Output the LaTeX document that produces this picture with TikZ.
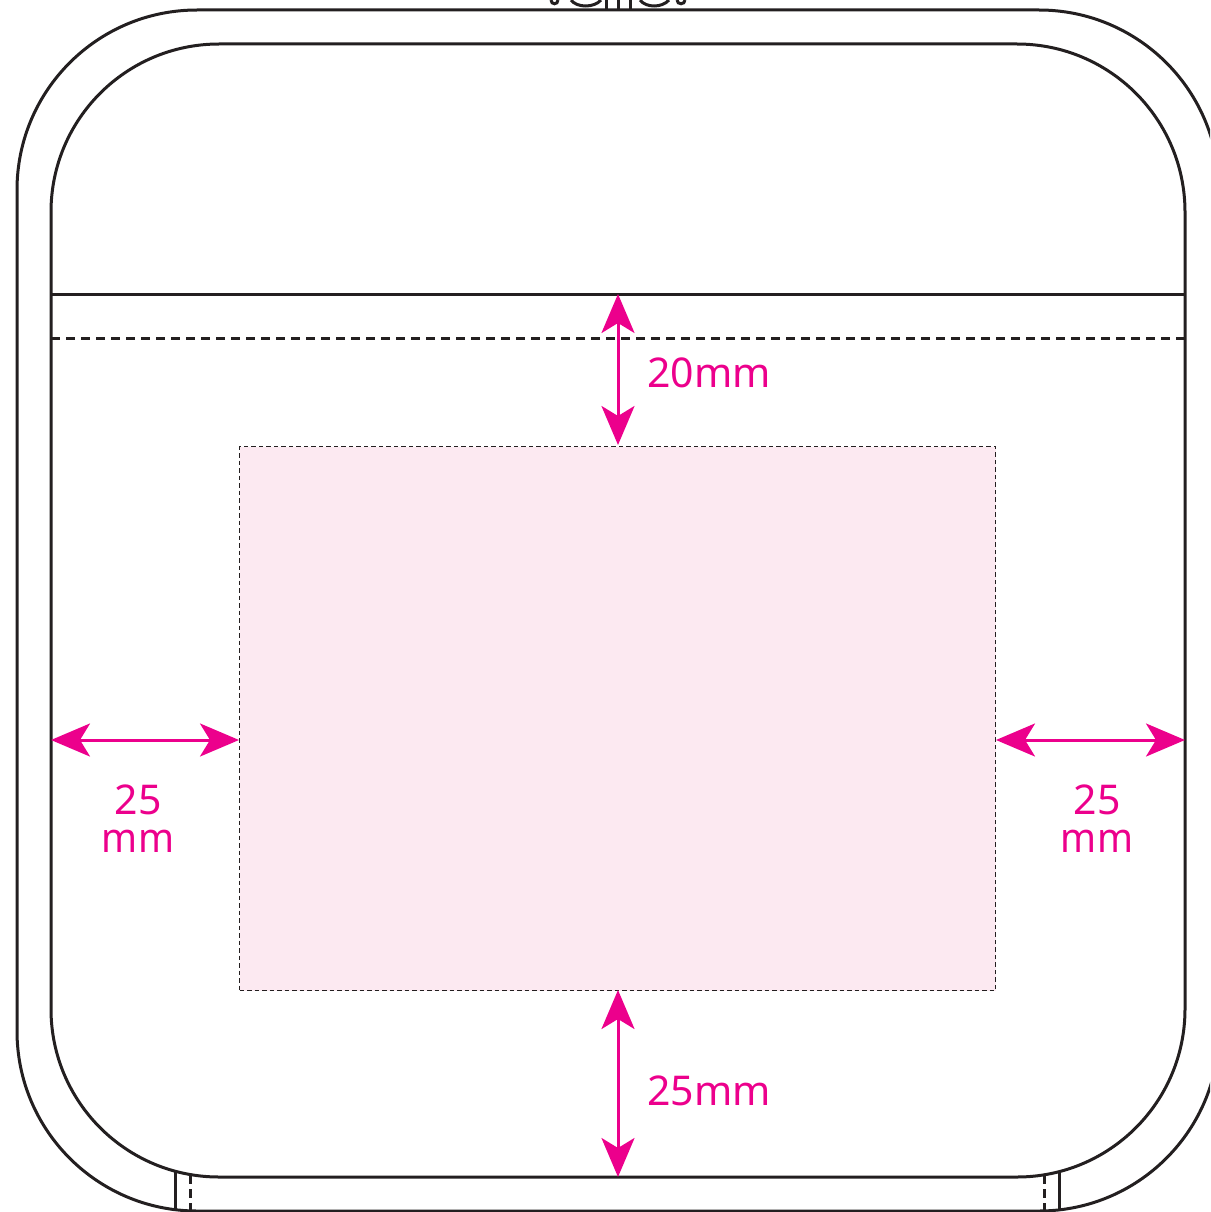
\documentclass[tikz,border=0pt]{standalone}
\usepackage{fontspec}
\setmainfont{Noto Sans}
\newfontfamily\stackfont[FakeStretch=0.94]{Noto Sans}
\usetikzlibrary{arrows.meta}
\definecolor{magentaink}{HTML}{EC008C}
\definecolor{pinkfill}{HTML}{FCE9F1}
\definecolor{inkline}{HTML}{231F20}
\tikzset{
  outline/.style={draw=inkline,line width=3pt},
  stitch/.style={draw=inkline,line width=3pt,dash pattern=on 9pt off 6pt},
  dimline/.style={draw=magentaink,line width=3pt,{Stealth[length=39pt,width=33pt,inset=10pt]}-{Stealth[length=39pt,width=33pt,inset=10pt]}},
  dimtext/.style={text=magentaink,font=\fontsize{41}{38}\selectfont,inner sep=0pt,align=center}
}
\begin{document}
\begin{tikzpicture}[x=1pt,y=-1pt]
\useasboundingbox (0,0) rectangle (1210,1212);
\clip (0,0) rectangle (1210,1212);
% logo fragment
\draw[inkline,line width=3pt] (551,0) .. controls (551,5) and (558,5) .. (558,0);
\draw[inkline,line width=3pt] (571,0) .. controls (577,8) and (594,8) .. (601,0);
\draw[inkline,line width=3pt] (606,0) -- (606,9) (618,0) -- (618,9) (630,0) -- (630,9);
\draw[inkline,line width=3pt] (640,0) .. controls (646,8) and (662,8) .. (669,0);
\draw[inkline,line width=3pt] (677,0) .. controls (677,5) and (685,5) .. (685,0);
% body
\draw[outline] (197,10) -- (1039,10) arc[start angle=270,end angle=360,radius=180] -- (1219,1031) arc[start angle=0,end angle=90,radius=180] -- (197,1211) arc[start angle=90,end angle=180,radius=180] -- (17,190) arc[start angle=180,end angle=270,radius=180] -- cycle;
\draw[outline] (219,44) -- (1017,44) arc[start angle=270,end angle=360,radius=168] -- (1185,1009) arc[start angle=0,end angle=90,radius=168] -- (219,1177) arc[start angle=90,end angle=180,radius=168] -- (51,212) arc[start angle=180,end angle=270,radius=168] -- cycle;
\draw[outline] (51,294) -- (1185,294);
\draw[stitch] (51,338) -- (1185,338);
\draw[outline] (175,1171) -- (175,1209) (1059,1171) -- (1059,1209);
\draw[stitch,dash pattern=on 9pt off 5pt] (190,1175) -- (190,1211) (1044,1175) -- (1044,1211);
% print area
\node[draw=inkline,line width=1pt,dash pattern=on 4.5pt off 3pt,fill=pinkfill,minimum width=756pt,minimum height=544pt,inner sep=0pt,anchor=north west] (area) at (239,446) {};
\coordinate (topedge) at (618,294);
\coordinate (areatop) at (618,445);
\coordinate (areabot) at (618,990);
\coordinate (botedge) at (618,1177);
\coordinate (leftedge) at (51,740);
\coordinate (arealeft) at (239,740);
\coordinate (arearight) at (996,740);
\coordinate (rightedge) at (1185,740);
\draw[dimline] (topedge) -- (areatop);
\draw[dimline] (areabot) -- (botedge);
\draw[dimline] (leftedge) -- (arealeft);
\draw[dimline] (arearight) -- (rightedge);
\node[dimtext,anchor=west] (t1) at (647,373) {20mm};
\node[dimtext,anchor=west] (t2) at (647,1091) {25mm};
\node[dimtext] (t3) at (138,819) {25\\{\stackfont mm}};
\node[dimtext] (t4) at (1097,819) {25\\{\stackfont mm}};
\end{tikzpicture}
\end{document}
